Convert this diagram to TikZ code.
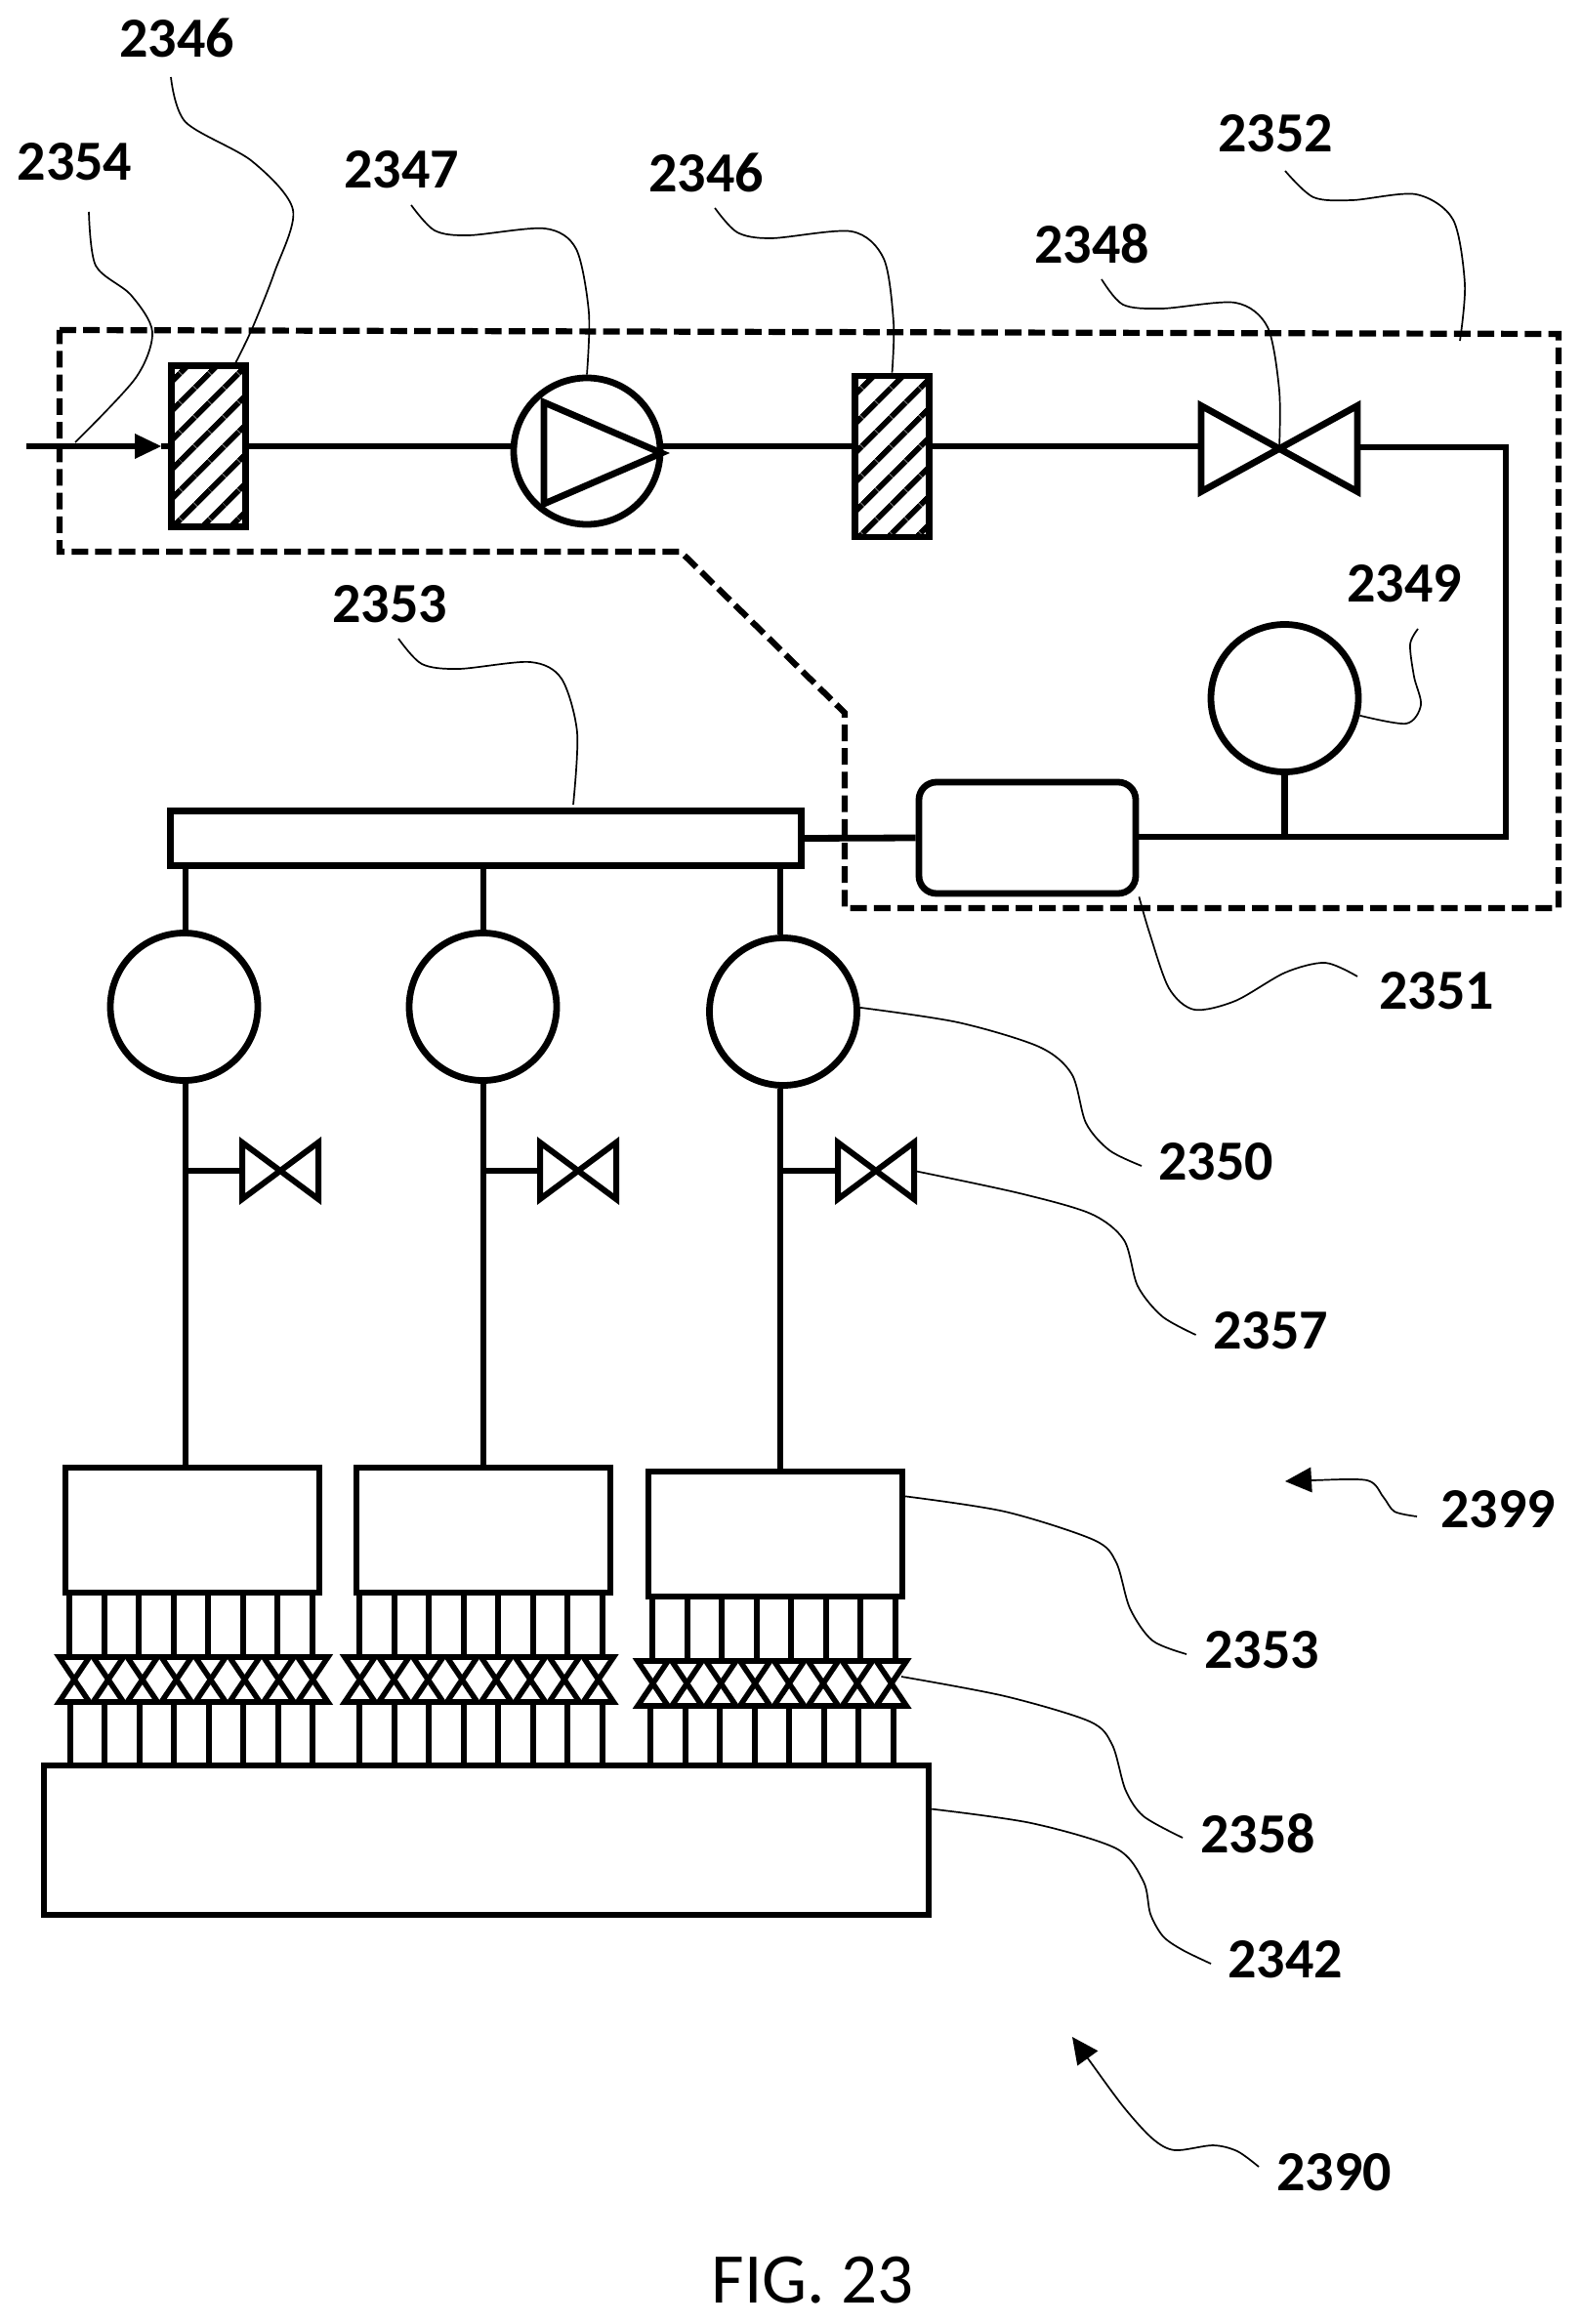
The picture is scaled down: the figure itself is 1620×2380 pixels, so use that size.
\documentclass[tikz,border=0pt]{standalone}
\usepackage{fontspec}
\setmainfont{Carlito}
\usepackage{tikz}
\usetikzlibrary{arrows.meta, patterns.meta}
\tikzstyle{pipe} = [line width=3.4pt]
\tikzstyle{thinpipe} = [line width=3pt]
\tikzstyle{leader} = [line width=0.85pt]
\tikzstyle{tag} = [font=\fontsize{29}{29}\selectfont\bfseries, inner sep=0pt]
\tikzstyle{filterbox} = [draw, pipe, rectangle, inner sep=0pt, minimum width=38.25pt, minimum height=82.5pt,
    pattern={Lines[angle=45,distance=10.5pt,line width=3pt]}]
\tikzstyle{roundvessel} = [draw, pipe, circle, inner sep=0pt]
\tikzstyle{plainbox} = [draw, rectangle, inner sep=0pt]
\tikzstyle{valvebox} = [rectangle, inner sep=0pt, outer sep=0pt]
\tikzstyle{bighead} = [-{Triangle[length=13.5pt,width=13pt,line width=0pt]}]

\begin{document}
\begin{tikzpicture}[x=0.5pt, y=-0.5pt, line join=miter]
    \useasboundingbox (0,0) rectangle (1620,2380);

    % dashed unit outline
    \draw[line width=3.1pt, dash pattern=on 8.5pt off 3.6pt]
        (61,338) -- (1596,342) -- (1596,930) -- (865,930) -- (865,730) -- (697,565) -- (61,565) -- cycle;

    % upper line
    \coordinate (inlet) at (27,457);
    \coordinate (inlettip) at (165,457);
    \node[filterbox] (filterA) at (213.5,457) {};
    \node[roundvessel, minimum size=75pt] (pump) at (601,462) {};
    \node[filterbox] (filterB) at (913.5,467.5) {};
    \node[valvebox, minimum width=80pt, minimum height=44pt] (valve) at (1310,459.5) {};
    \node[roundvessel, minimum size=75.5pt] (gauge) at (1315.5,715) {};
    \node[draw, pipe, rectangle, rounded corners=9pt, inner sep=0pt, minimum width=111pt, minimum height=57pt] (tank) at (1052,858) {};
    \node[plainbox, pipe, minimum width=323pt, minimum height=28.25pt] (manifold) at (497.5,858.5) {};
    \coordinate (cornerA) at (1542,458);
    \coordinate (cornerB) at (1542,857);

    \draw[pipe, bighead] (inlet) -- (inlettip);
    \draw[pipe] (inlettip) -- (filterA.west |- inlet);
    \draw[pipe] (filterA.east |- inlet) -- (pump.west |- inlet);
    \draw[pipe] (pump.east |- inlet) -- (filterB.west |- inlet);
    \draw[pipe] (filterB.east |- inlet) -- (valve.west |- inlet);
    \draw[pipe] ([shift={(-44,-50)}]pump.center) -- ([shift={(-2,2)}]pump.east) -- ([shift={(-44,54)}]pump.center) -- cycle;
    \draw[pipe] (valve.north west) -- (valve.south east) -- (valve.north east) -- (valve.south west) -- cycle;
    \draw[pipe] (valve.east |- cornerA) -- (cornerA) -- (cornerB) -- (tank.east |- cornerB);
    \draw[pipe] (gauge.south) -- (gauge.south |- cornerB);
    \draw[pipe] (tank.west) -- (manifold.east);

    % three branches down to the bath
    \node[plainbox, line width=3.2pt, minimum width=453pt, minimum height=76.5pt] (bath) at (498,1884.5) {};
    \foreach \n/\dx/\hx/\hy/\sx/\bx/\by/\vx/\vy/\tx/\lx in {
            a/190/188.5/1031/287/197/1566.5/76/1720/71/71.5,
            b/495/494.5/1031/592/495/1566.5/368.5/1720/368/368,
            c/799/802/1036/897/794/1570.5/668.5/1724/668/666} {
        \coordinate (drop\n) at (\dx,890);
        \node[roundvessel, minimum size=75.5pt] (head\n) at (\hx,\hy) {};
        \node[valvebox, minimum width=39pt, minimum height=29pt] (stop\n) at (\sx,1199) {};
        \node[plainbox, thinpipe, minimum width=130pt, minimum height=64pt] (box\n) at (\bx,\by) {};
        \draw[pipe] (drop\n) -- (drop\n |- head\n.north);
        \draw[pipe] (drop\n |- head\n.south) -- (drop\n |- box\n.north);
        \draw[pipe] (drop\n |- stop\n.west) -- (stop\n.west);
        \draw[thinpipe] (stop\n.north west) -- (stop\n.south east) -- (stop\n.north east) -- (stop\n.south west) -- cycle;
        \foreach \i in {0,...,7} {
            \node[valvebox, minimum width=15.5pt, minimum height=23pt] (cut\n\i) at (\vx+34.9*\i,\vy) {};
            \draw[line width=2.8pt] (cut\n\i.north west) -- (cut\n\i.south east) -- (cut\n\i.south west) -- (cut\n\i.north east) -- cycle;
            \coordinate (up\n\i) at (\tx+35.5*\i,\vy);
            \coordinate (low\n\i) at (\lx+35.5*\i,\vy);
            \draw[thinpipe] (up\n\i |- box\n.south) -- (up\n\i |- cut\n\i.north);
            \draw[thinpipe] (low\n\i |- cut\n\i.south) -- (low\n\i |- bath.north);
        }
    }

    % tags
    \node[tag] (tagfilterA) at (181,39) {2346};
    \node[tag] (taginlet) at (76.5,166) {2354};
    \node[tag] (tagpump) at (411,174) {2347};
    \node[tag] (tagfilterB) at (723,177) {2346};
    \node[tag] (tagunit) at (1306,137) {2352};
    \node[tag] (tagvalve) at (1118,250) {2348};
    \node[tag] (taggauge) at (1438,598) {2349};
    \node[tag] (tagmani) at (399,619) {2353};
    \node[tag] (tagtank) at (1471,1015) {2351};
    \node[tag] (taghead) at (1245,1190) {2350};
    \node[tag] (tagstop) at (1301,1363) {2357};
    \node[tag] (tagsys) at (1534,1546) {2399};
    \node[tag] (tagbox) at (1292,1690) {2353};
    \node[tag] (tagcut) at (1288,1878) {2358};
    \node[tag] (tagbath) at (1316,2007) {2342};
    \node[tag] (tagall) at (1366,2225) {2390};
    \node[inner sep=0pt, font=\fontsize{36.5}{36.5}\selectfont] (figlabel) at (832,2335) {FIG. 23};

    % leader ends
    \coordinate (endfilterA) at (175,79);
    \coordinate (endinlet) at (91,217);
    \coordinate (pipeinlet) at (77,453);
    \coordinate (endpump) at (421,210);
    \coordinate (endfilterB) at (732,213);
    \coordinate (endunit) at (1316,175);
    \coordinate (edgeunit) at (1495,349);
    \coordinate (endvalve) at (1128,286);
    \coordinate (endgauge) at (1452,644);
    \coordinate (endmani) at (408,654);
    \coordinate (endtank) at (1390,1000);
    \coordinate (endhead) at (1169,1194);
    \coordinate (endstop) at (1224.5,1367);
    \coordinate (endsys) at (1451,1553);
    \coordinate (tipsys) at (1316,1517);
    \coordinate (endbox) at (1215,1694);
    \coordinate (endcut) at (1211,1882);
    \coordinate (endbath) at (1240,2011);
    \coordinate (endall) at (1289,2219);
    \coordinate (tipall) at (1098,2086);

    % leaders
    \draw[leader] plot[smooth] coordinates {(endfilterA) (190,125) (258,165) (300,215) (281,279) (258,337) (filterA.72)};
    \draw[leader] plot[smooth] coordinates {(endinlet) (98,272) (134,302) (156,340) (139,387) (pipeinlet)};
    \draw[leader] plot[smooth] coordinates {(endpump) (445,236) (480,241) (558,234) (590,255) (603,320) (pump.north)};
    \draw[leader] plot[smooth] coordinates {(endfilterB) (755,238) (790,244) (872,237) (905,265) (915,330) (filterB.north)};
    \draw[leader] plot[smooth] coordinates {(endunit) (1345,202) (1385,205) (1450,199) (1488,225) (1500,291) (edgeunit)};
    \draw[leader] plot[smooth] coordinates {(endvalve) (1150,312) (1190,316) (1265,310) (1298,335) (1310,400) (valve.center)};
    \draw[leader] plot[smooth] coordinates {(endgauge) (1444,660) (1448,693) (1455,722) (1440,741) (gauge.-13)};
    \draw[leader] plot[smooth] coordinates {(endmani) (432,680) (470,685) (543,678) (575,695) (591,750) (587,824)};
    \draw[leader] plot[smooth] coordinates {(endtank) (1357,986) (1316,996) (1265,1025) (1223,1034) (1197,1012) (1177,955) (tank.south east)};
    \draw[leader] plot[smooth] coordinates {(endhead) (1136,1178) (1112,1150) (1097.5,1100) (1064,1072) (981,1047) (headc.3)};
    \draw[leader] plot[smooth] coordinates {(endstop) (1190,1348) (1165,1317) (1151,1270) (1117,1243) (1044,1222) (stopc.east)};
    \draw[leader, bighead] plot[smooth] coordinates {(endsys) (1428,1548) (1416.5,1533) (1400,1516) (1343,1516) (tipsys)};
    \draw[leader] plot[smooth] coordinates {(endbox) (1180,1680) (1157,1647) (1143,1600) (1120,1577) (1029,1548) (boxc.16.7)};
    \draw[leader] plot[smooth] coordinates {(endcut) (1171,1860) (1152.5,1833) (1139,1787) (1116,1763) (1029,1737) (923,1717)};
    \draw[leader] plot[smooth] coordinates {(endbath) (1211,1997) (1191,1983) (1178,1960) (1171,1927) (1143,1893) (1056,1867) (bath.4.6)};
    \draw[leader, bighead] plot[smooth] coordinates {(endall) (1267,2203) (1242,2197) (1203,2202) (1180,2190) (1150,2157) (1114,2108) (tipall)};
\end{tikzpicture}
\end{document}
